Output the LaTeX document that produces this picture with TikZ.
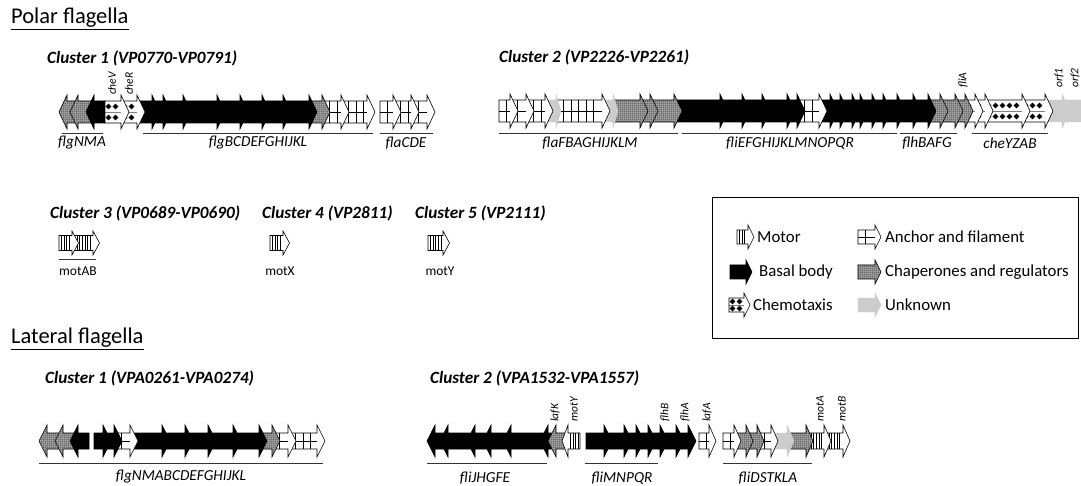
\documentclass[tikz,border=0pt]{standalone}
\usepackage{fontspec}
\setmainfont{Carlito}
\usetikzlibrary{patterns}
\pgfdeclarepatternformonly{finegrid}{\pgfpointorigin}{\pgfqpoint{1.8pt}{1.8pt}}{\pgfqpoint{1.8pt}{1.8pt}}{%
  \pgfsetlinewidth{0.45pt}%
  \pgfpathmoveto{\pgfqpoint{0pt}{0.9pt}}\pgfpathlineto{\pgfqpoint{1.8pt}{0.9pt}}%
  \pgfpathmoveto{\pgfqpoint{0.9pt}{0pt}}\pgfpathlineto{\pgfqpoint{0.9pt}{1.8pt}}%
  \pgfusepath{stroke}}
\def\GY{112}\def\BH{11}\def\HH{17}\def\HL{8}
\newcommand\gdraw[1]{%
  \fill[#1fill] \gpath;
  \csname deco#1\endcsname
  \draw[#1line] \gpath;}
\newcommand\gR[4][\HL]{%
  \pgfmathsetmacro\gS{#2}\pgfmathsetmacro\gE{#3}\pgfmathsetmacro\gH{#1}%
  \def\gpath{(\gS,\GY-\BH) -- (\gE,\GY-\BH) -- (\gE,\GY-\HH) -- (\gE+\gH,\GY) -- (\gE,\GY+\HH) -- (\gE,\GY+\BH) -- (\gS,\GY+\BH) -- cycle}%
  \gdraw{#4}}
\newcommand\gL[4][\HL]{%
  \pgfmathsetmacro\gS{#2}\pgfmathsetmacro\gE{#3}\pgfmathsetmacro\gH{#1}%
  \def\gpath{(\gE,\GY-\BH) -- (\gS,\GY-\BH) -- (\gS,\GY-\HH) -- (\gS-\gH,\GY) -- (\gS,\GY+\HH) -- (\gS,\GY+\BH) -- (\gE,\GY+\BH) -- cycle}%
  \gdraw{#4}}
\newcommand\decobasal{}
\newcommand\decounk{}
\newcommand\decomotor{%
  \pgfmathtruncatemacro\gN{(\gE-\gS)/2.6-0.4}%
  \ifnum\gN>0 \foreach \k in {1,...,\gN}{\draw[line width=0.7pt] ({\gS+\k*2.6},\GY-\BH) -- ({\gS+\k*2.6},\GY+\BH);}\fi}
\newcommand\decoanchor{%
  \draw[line width=0.5pt] (\gS,\GY) -- (\gE,\GY);
  \pgfmathtruncatemacro\gN{(\gE-\gS)/7.5-0.3}%
  \ifnum\gN>0 \foreach \k in {1,...,\gN}{\draw[line width=0.5pt] ({\gS+\k*7.5},\GY-\BH) -- ({\gS+\k*7.5},\GY+\BH);}\fi}
\newcommand\decochemo{%
  \draw[line width=0.3pt, black!50] (\gS,\GY) -- (\gE,\GY);
  \pgfmathtruncatemacro\gN{(\gE-\gS+1)/7}%
  \ifnum\gN>0 \foreach \k in {1,...,\gN}{%
    \pgfmathsetmacro\cx{\gS+(\k-0.5)*7}%
    \fill (\cx,\GY-\BH/2) +(-2.8,0) -- +(0,-2.8) -- +(2.8,0) -- +(0,2.8) -- cycle;
    \fill (\cx,\GY+\BH/2) +(-2.8,0) -- +(0,-2.8) -- +(2.8,0) -- +(0,2.8) -- cycle;}\fi}
\newcommand\decochap{\path[pattern=finegrid, pattern color=black!75] \gpath;}
\begin{document}
\begin{tikzpicture}[x=1pt,y=-1pt,
  gline/.style={draw=black, line width=0.6pt},
  basalfill/.style={fill=black}, basalline/.style={gline},
  motorfill/.style={fill=white}, motorline/.style={gline},
  anchorfill/.style={fill=white}, anchorline/.style={gline},
  chemofill/.style={fill=white}, chemoline/.style={gline},
  chapfill/.style={fill=gray!55}, chapline/.style={gline},
  unkfill/.style={fill=gray!40}, unkline/.style={draw=gray!40, line width=0.4pt},
  lbl/.style={font=\itshape\fontsize{15.3}{18}\selectfont, inner sep=0pt},
  rlbl/.style={rotate=90, anchor=west, font=\itshape\fontsize{11.5}{13}\selectfont, inner sep=0pt},
  ttl/.style={anchor=west, font=\bfseries\itshape\fontsize{17.2}{20}\selectfont, inner sep=0pt},
  sec/.style={anchor=west, font=\fontsize{22.5}{26}\selectfont, inner sep=0pt},
  leg/.style={anchor=west, font=\fontsize{16.8}{20}\selectfont, inner sep=0pt},
  mlbl/.style={font=\fontsize{13.5}{15}\selectfont, inner sep=0pt},
  uline/.style={line width=0.9pt, draw=black!80}]
\useasboundingbox (0,0) rectangle (1081,486);
\fill[white] (0,0) rectangle (1081,486);
\clip (0,0) rectangle (1081,486);

% ---------------- headings
\node[sec] (polar) at (11,19) {\underline{Polar flagella}};
\node[sec] (lateral) at (11,339) {\underline{Lateral flagella}};
\node[ttl] (pc1) at (47,58) {Cluster 1 (VP0770-VP0791)};
\node[ttl] (pc2) at (499,57) {Cluster 2 (VP2226-VP2261)};
\node[ttl] (pc3) at (50,213) {Cluster 3 (VP0689-VP0690)};
\node[ttl] (pc4) at (262,213) {Cluster 4 (VP2811)};
\node[ttl] (pc5) at (415,213) {Cluster 5 (VP2111)};
\node[ttl] (lc1) at (45,378) {Cluster 1 (VPA0261-VPA0274)};
\node[ttl] (lc2) at (430,378) {Cluster 2 (VPA1532-VPA1557)};

% ---------------- polar cluster 1
\begin{scope}
\def\GY{112}\def\BH{11}\def\HH{17}\def\HL{8}
\gL{67}{78}{chap}\gL{78}{94}{chap}\gL{94}{105}{basal}
\gR{411}{427}{anchor}\gR{393}{411}{anchor}\gR{380}{393}{anchor}
\gR{341}{367}{anchor}\gR{322}{341}{anchor}\gR{309}{322}{chap}
\gR{283}{309}{basal}\gR{262}{283}{basal}\gR{240}{262}{basal}\gR{217}{240}{basal}
\gR{183}{217}{basal}\gR{163}{183}{basal}\gR{152}{163}{basal}\gR{137}{152}{basal}
\gR{121}{137}{chemo}\gR{105}{121}{chemo}
\end{scope}
\node[rlbl] (cheV) at (112,95) {cheV};
\node[rlbl] (cheR) at (129,95) {cheR};
\draw[uline] (62,133) -- (103,133);
\draw[uline] (143,133) -- (373,133);
\draw[uline] (380,133) -- (433,133);
\node[lbl] (flgNMA) at (82,143) {flgNMA};
\node[lbl] (flgB) at (258,143) {flgBCDEFGHIJKL};
\node[lbl] (flaCDE) at (406,143) {flaCDE};

% ---------------- polar cluster 2
\begin{scope}
\def\GY{111}\def\BH{11}\def\HH{17}\def\HL{8}
\gR{1062}{1090}{unk}\gR{1045}{1062}{unk}
\gR{1022}{1045}{chemo}\gR{985}{1022}{chemo}\gR{975}{985}{chemo}\gR{965}{975}{chemo}
\gR{955}{965}{chap}\gR{940}{955}{chap}\gR{928}{940}{chap}
\gR{913}{928}{basal}\gR{897}{913}{basal}\gR{883}{897}{basal}\gR{872}{883}{basal}
\gR{860}{872}{basal}\gR{852}{860}{basal}\gR{840}{852}{basal}\gR{830}{840}{basal}
\gR{819}{830}{basal}\gR{797}{819}{anchor}\gR{787}{797}{basal}\gR{762}{787}{basal}
\gR{742}{762}{basal}\gR{720}{742}{basal}\gR{674}{720}{basal}
\gR{650}{674}{chap}\gR{640}{650}{chap}\gR{613}{640}{chap}
\gR[5]{603}{613}{unk}\gR{556}{602}{anchor}\gR[5]{546}{556}{unk}
\gR{526}{545}{anchor}\gR{510}{526}{anchor}\gR{499}{510}{anchor}
\end{scope}
\node[rlbl] (fliA) at (963,88) {fliA};
\node[rlbl] (orf1) at (1059,88) {orf1};
\node[rlbl] (orf2) at (1075,88) {orf2};
\draw[uline] (499,133) -- (678,133);
\draw[uline] (682,133) -- (897,133);
\draw[uline] (900,133) -- (957,133);
\draw[uline] (972,133) -- (1048,133);
\node[lbl] (flaF) at (590,143) {flaFBAGHIJKLM};
\node[lbl] (fliE) at (790,143) {fliEFGHIJKLMNOPQR};
\node[lbl] (flhB) at (927,143) {flhBAFG};
\node[lbl] (cheY) at (1010,143) {cheYZAB};

% ---------------- polar clusters 3-5
\begin{scope}
\def\GY{243}\def\BH{7.5}\def\HH{12}\def\HL{6.5}
\gR{72}{93}{motor}\gR{59}{72}{motor}
\gR{270}{283}{motor}
\gR{428}{443}{motor}
\end{scope}
\draw[uline] (59,259) -- (96,259);
\node[mlbl] (motAB) at (78,271) {motAB};
\node[mlbl] (motX) at (280,271) {motX};
\node[mlbl] (motYp) at (440,271) {motY};

% ---------------- legend
\draw[line width=1pt] (712,198) rectangle (1078,338);
\begin{scope}
\def\BH{7}\def\HH{12}\def\HL{6}
\def\GY{237}\gR{737}{748}{motor}\gR{858}{875}{anchor}
\def\GY{272}\gR{730}{746}{basal}\gR{858}{875}{chap}
\def\GY{305}\gR{729}{744}{chemo}\gR{858}{875}{unk}
\end{scope}
\node[leg] (lmot) at (757,237) {Motor};
\node[leg] (lbas) at (759,272) {Basal body};
\node[leg] (lche) at (753,305) {Chemotaxis};
\node[leg] (lanc) at (885,237) {Anchor and filament};
\node[leg] (lcha) at (885,272) {Chaperones and regulators};
\node[leg] (lunk) at (885,305) {Unknown};

% ---------------- lateral cluster 1
\begin{scope}
\def\GY{441}\def\BH{8}\def\HH{16}\def\HL{8}
\gL{47}{63}{chap}\gL{63}{78}{chap}\gL{78}{89}{basal}
\gR{288}{317}{anchor}\gR{272}{288}{anchor}\gR{259}{272}{chap}
\gR{233}{259}{basal}\gR{208}{233}{basal}\gR{185}{208}{basal}\gR{162}{185}{basal}
\gR{130}{162}{basal}\gR{114}{130}{anchor}\gR{103}{114}{basal}\gR{94}{103}{basal}
\end{scope}
\draw[uline] (39,463) -- (323,463);
\node[lbl] (flgN) at (181,477) {flgNMABCDEFGHIJKL};

% ---------------- lateral cluster 2
\begin{scope}
\def\GY{441}\def\BH{8}\def\HH{16}\def\HL{8}
\gL{435}{448}{basal}\gL{448}{475}{basal}\gL{475}{491}{basal}\gL{491}{511}{basal}
\gL{511}{548}{basal}\gL{548}{556}{basal}\gL{556}{568}{chap}\gL[6]{568}{580}{motor}
\gR[7]{824}{843}{motor}\gR[7]{806}{824}{motor}\gR[7]{787}{806}{chap}\gR[7]{771}{787}{unk}
\gR[7]{757}{771}{anchor}\gR[7]{746}{757}{chap}\gR[7]{734}{746}{chap}\gR[7]{723}{734}{anchor}
\gR[7]{699}{709}{anchor}
\gR{676}{688}{basal}\gR{660}{676}{basal}\gR{648}{660}{basal}\gR{636}{648}{basal}
\gR{624}{636}{basal}\gR{604}{624}{basal}\gR{586}{604}{basal}
\end{scope}
\node[rlbl] (lafK) at (555,422) {lafK};
\node[rlbl] (motYl) at (574,422) {motY};
\node[rlbl] (flhBl) at (665,422) {flhB};
\node[rlbl] (flhAl) at (685,422) {flhA};
\node[rlbl] (lafA) at (707,422) {lafA};
\node[rlbl] (motA) at (820,422) {motA};
\node[rlbl] (motB) at (842,422) {motB};
\draw[uline] (427,463) -- (547,463);
\draw[uline] (585,463) -- (658,463);
\draw[uline] (723,463) -- (812,463);
\node[lbl] (fliJ) at (485,478) {fliJHGFE};
\node[lbl] (fliM) at (622,478) {fliMNPQR};
\node[lbl] (fliD) at (768,478) {fliDSTKLA};
\end{tikzpicture}
\end{document}
